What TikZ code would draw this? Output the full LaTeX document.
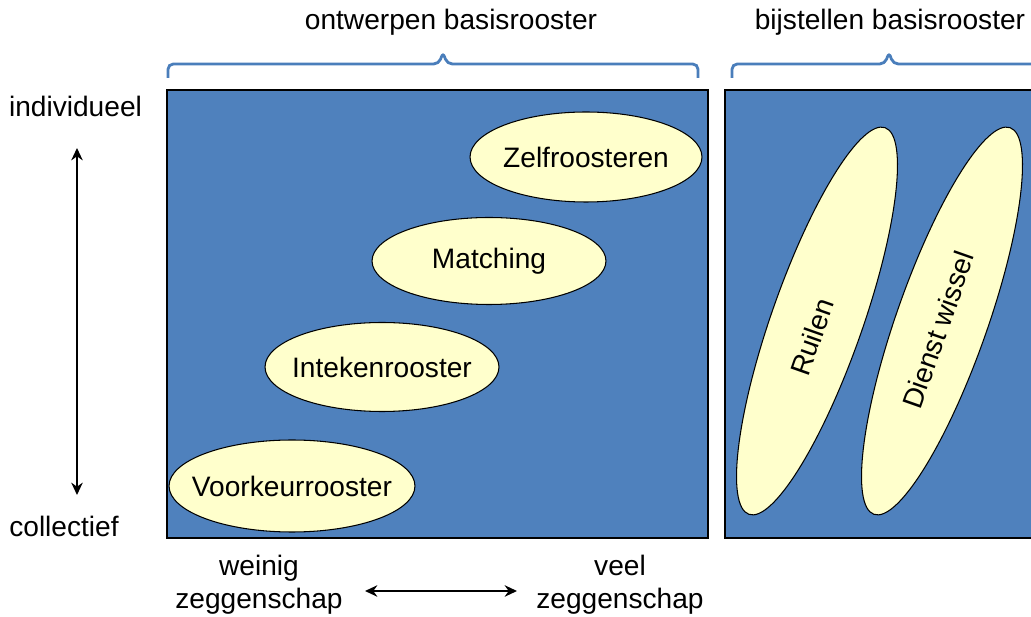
\documentclass[tikz,border=0pt]{standalone}
\usepackage{fontspec}
\setmainfont{Liberation Sans}
\usetikzlibrary{shapes.geometric}
\usetikzlibrary{arrows.meta}

\definecolor{panelblue}{HTML}{4F81BD}
\definecolor{bracecol}{HTML}{4A7EBB}
\definecolor{ovalfill}{HTML}{FFFFCC}

\tikzset{
  oval/.style={ellipse, draw=black, fill=ovalfill, line width=0.6pt, inner sep=0pt},
  txt/.style={font=\fontsize{16}{19}\selectfont},
  brace/.style={draw=bracecol, line width=1.6pt, rounded corners=3pt},
  axisarrow/.style={{Stealth[length=7pt,width=6.5pt]}-{Stealth[length=7pt,width=6.5pt]}, line width=1.5pt}
}

\begin{document}
\begin{tikzpicture}[x=0.02cm, y=-0.02cm, every node/.style={txt}]
    \useasboundingbox (0,0) rectangle (1031,617);
    \clip (0,0) rectangle (1031,617);

    % panelen
    \filldraw[fill=panelblue, draw=black, line width=0.8pt] (167,90) rectangle (708,538);
    \filldraw[fill=panelblue, draw=black, line width=0.8pt] (725,90) rectangle (1045,538);

    % accolades
    \draw[brace] (168,78) -- (168,64) -- (439,64) -- (443,52) -- (447,64) -- (698,64) -- (698,78);
    \draw[brace] (732,78) -- (732,64) -- (885,64) -- (889,52) -- (893,64) -- (1045,64);

\node[anchor=base] (ontwerp) at (451,30) {ontwerpen basisrooster};
\node[anchor=base] (bijstel) at (890,30) {bijstellen basisrooster};

\node[oval, minimum width=4.64cm, minimum height=1.8cm] (zelf) at (586,157) {};
\node[oval, minimum width=4.68cm, minimum height=1.74cm] (matching) at (489,261) {};
\node[oval, minimum width=4.68cm, minimum height=1.78cm] (inteken) at (382,367) {};
\node[oval, minimum width=4.92cm, minimum height=1.84cm] (voorkeur) at (292,486) {};
\node (zelftxt) at (zelf) {Zelfroosteren};
\node (matchingtxt) at (matching) {Matching};
\node (intekentxt) at (inteken) {Intekenrooster};
\node (voorkeurtxt) at (voorkeur) {Voorkeurrooster};

\node[oval, minimum width=8.2cm, minimum height=1.82cm, rotate=70.6] (ruilen) at (817,321) {};
\node[oval, minimum width=8.2cm, minimum height=1.82cm, rotate=70.6] (dienst) at (942,321) {};
\node[rotate=70.6] (ruilentxt) at (812,337) {Ruilen};
\node[rotate=70.6] (diensttxt) at (938,330) {Dienst wissel};

    % assen
\node[anchor=base] (indiv) at (75.5,117) {individueel};
\node[anchor=base] (coll) at (64,537) {collectief};
\coordinate (vtop) at (77,148);
\coordinate (vbot) at (77,495);
\draw[axisarrow] (vtop) -- (vbot);

\node[align=center] (weinig) at (259,585) {weinig\\zeggenschap};
\node[align=center] (veel) at (620,585) {veel\\zeggenschap};
\coordinate (hleft) at (365,591);
\coordinate (hright) at (517,591);
\draw[axisarrow] (hleft) -- (hright);
\end{tikzpicture}
\end{document}
